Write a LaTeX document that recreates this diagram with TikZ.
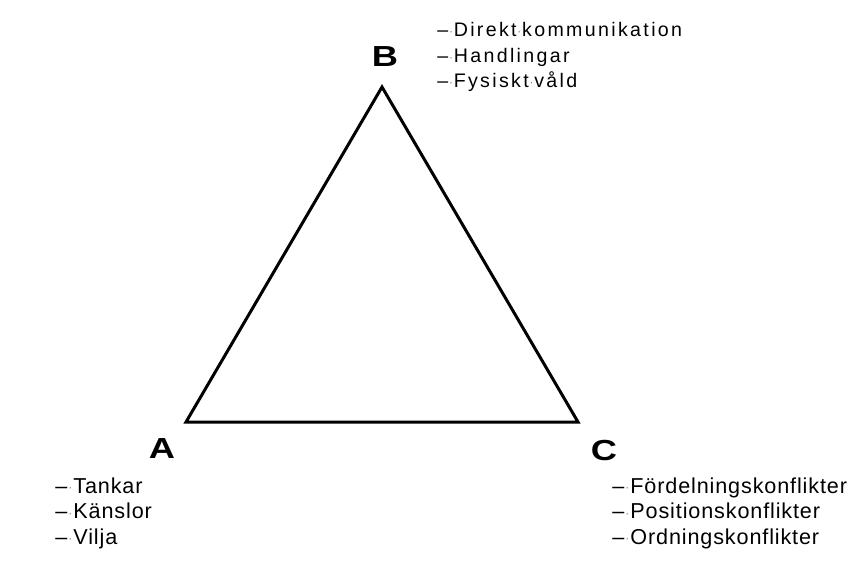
\documentclass[tikz,border=0pt]{standalone}
\usepackage{fontspec}
\setmainfont{Liberation Sans}
\newfontfamily\upperfont[LetterSpace=12]{Liberation Sans}
\newfontfamily\lowerfont[LetterSpace=4]{Liberation Sans}
\newfontfamily\cornerfont[FakeStretch=1.25]{Liberation Sans Bold}
\usetikzlibrary{positioning}
\newcommand{\spdot}{\makebox[0.278em][c]{\textcolor{gray}{\raisebox{0.05em}{\fontsize{6pt}{6pt}\selectfont ·}}}}
\begin{document}
\begin{tikzpicture}[
        x=0.5pt, y=-0.5pt,
        side/.style={draw, line width=1.5pt, line join=miter},
        corner/.style={inner sep=0pt, font=\cornerfont\fontsize{14.5}{14.5}\selectfont},
        upperlist/.style={align=left, anchor=north west, inner sep=0pt, font=\upperfont\fontsize{9.8}{12.75}\selectfont},
        lowerlist/.style={align=left, anchor=north west, inner sep=0pt, font=\lowerfont\fontsize{10.8}{12.75}\selectfont},
    ]
    \useasboundingbox (0,0) rectangle (860,567);
    \coordinate (A) at (186,422);
    \coordinate (B) at (382,87);
    \coordinate (C) at (578,422);
    \draw[side] (A) -- (B) -- (C) -- cycle;
    \node[corner] (labelA) at (162,449) {A};
    \node[corner] (labelB) at (385,57) {B};
    \node[corner] (labelC) at (604,451) {C};
    \node[upperlist] (listB) at (437,22) {–\spdot Direkt\spdot kommunikation\\–\spdot Handlingar\\–\spdot Fysiskt\spdot våld};
    \node[lowerlist] (listA) at (55,477) {–\spdot Tankar\\–\spdot Känslor\\–\spdot Vilja};
    \node[lowerlist] (listC) at (612,477) {–\spdot Fördelningskonflikter\\–\spdot Positionskonflikter\\–\spdot Ordningskonflikter};
\end{tikzpicture}
\end{document}
